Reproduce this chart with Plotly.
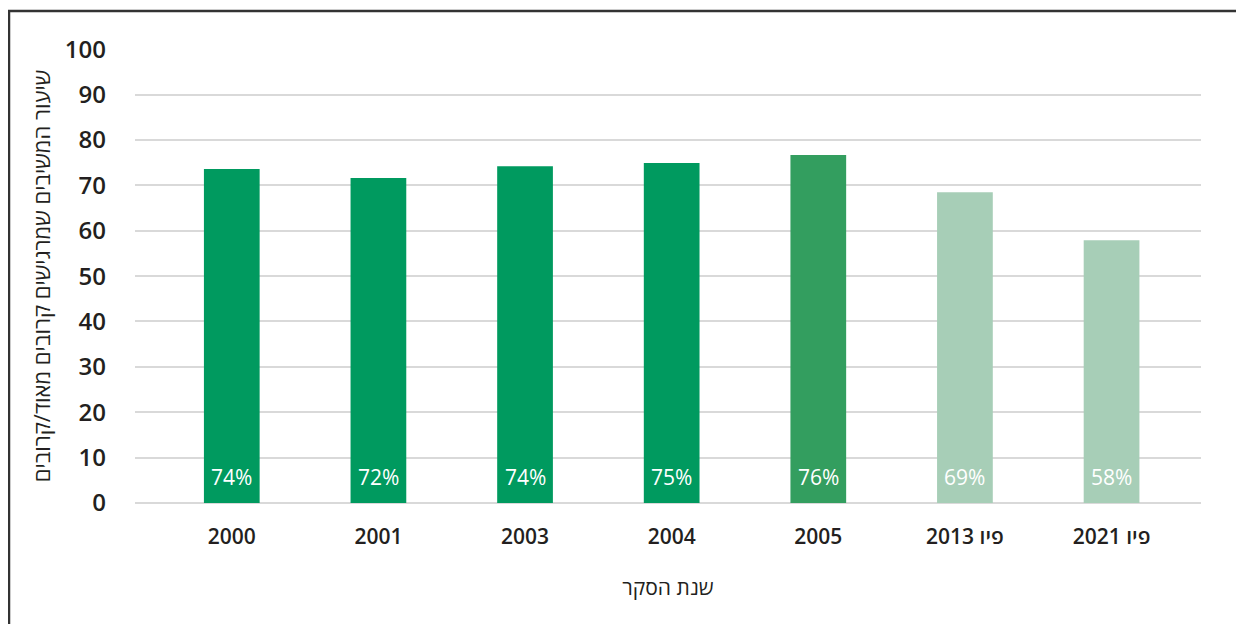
import plotly.graph_objects as go

categories = ["2000", "2001", "2003", "2004", "2005", "פיו 2013", "פיו 2021"]
values = [73.6, 71.6, 74.2, 74.9, 76.7, 68.5, 57.9]
labels = ["74%", "72%", "74%", "75%", "76%", "69%", "58%"]
colors = ["#009A5F", "#009A5F", "#009A5F", "#009A5F", "#339E5F", "#A7CEB7", "#A7CEB7"]
y_ticks = [0, 10, 20, 30, 40, 50, 60, 70, 80, 90, 100]

FONT = "Open Sans, DejaVu Sans, sans-serif"
TXT = "#231F20"

# page body has an 8px margin; figure is sized/offset to compensate
W, H = 1236, 616
L, R, T, B = 127, 43, 41, 121
PW, PH = W - L - R, H - T - B

fig = go.Figure()
fig.add_trace(go.Bar(
    x=categories,
    y=values,
    marker=dict(color=colors, line=dict(width=0)),
    width=0.38,
    hoverinfo="skip",
))

for i, t in enumerate(labels):
    fig.add_annotation(
        x=i, y=0, xref="x", yref="y",
        text=t, showarrow=False,
        yanchor="middle", yshift=26,
        font=dict(family=FONT, size=21, color="white", weight=500),
    )

fig.update_layout(
    width=W,
    height=H,
    margin=dict(l=L, r=R, t=T, b=B),
    paper_bgcolor="white",
    plot_bgcolor="white",
    showlegend=False,
    font=dict(family=FONT, color=TXT),
    xaxis=dict(
        type="category",
        range=[-0.66, 6.61],
        showgrid=False,
        showline=False,
        zeroline=False,
        ticks="",
        tickfont=dict(family=FONT, size=21, color=TXT, weight=600),
        ticklabelstandoff=19,
        title=dict(text="שנת הסקר", font=dict(family=FONT, size=21, color=TXT), standoff=31),
        automargin=False,
    ),
    yaxis=dict(
        range=[0, 100.05],
        tickvals=y_ticks,
        showgrid=True,
        gridcolor="#D9D9D9",
        gridwidth=1.5,
        zeroline=True,
        zerolinecolor="#D9D9D9",
        zerolinewidth=1.5,
        showline=False,
        ticks="",
        tickfont=dict(family=FONT, size=24, color=TXT, weight=600),
        ticklabelstandoff=28,
        title=dict(text="שיעור המשיבים שמרגישים קרובים מאוד/קרובים", font=dict(family=FONT, size=22, color=TXT), standoff=8),
        automargin=False,
    ),
)

fig.add_shape(
    type="rect",
    xref="paper", yref="paper",
    x0=(1 - L) / PW, x1=(W + 20 - L) / PW,
    y0=(PH - (H + 40 - T)) / PH, y1=(PH - (3 - T)) / PH,
    line=dict(color="#333333", width=2.5),
    fillcolor="rgba(0,0,0,0)",
    layer="below",
)

fig.write_html("out.html")
